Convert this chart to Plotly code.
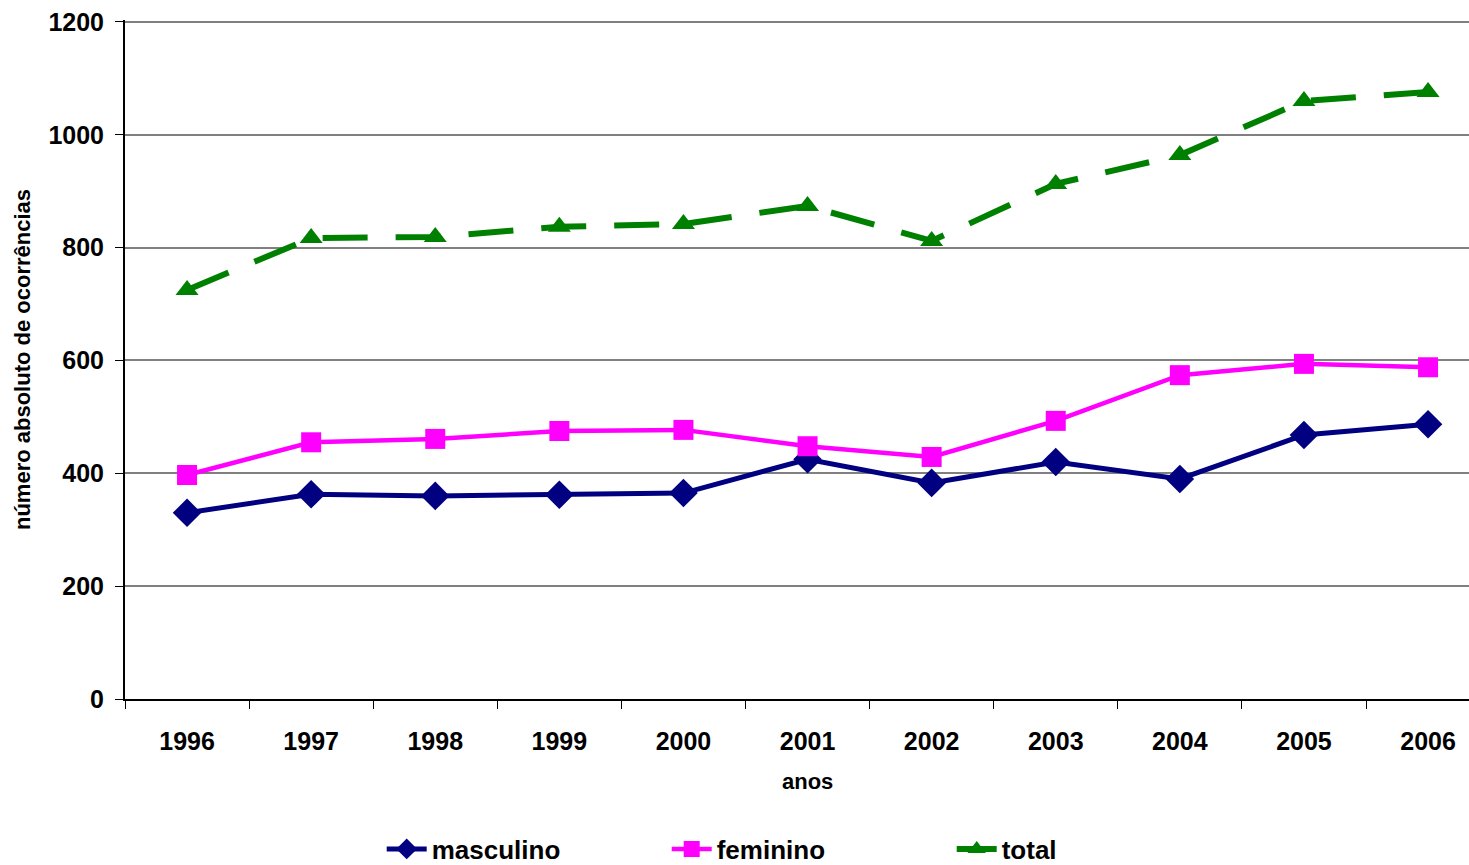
import plotly.graph_objects as go

anos = ["1996", "1997", "1998", "1999", "2000", "2001", "2002", "2003", "2004", "2005", "2006"]
masculino = [330, 363, 360, 362, 365, 425, 383, 420, 390, 468, 487]
feminino = [397, 455, 461, 475, 477, 448, 429, 493, 574, 594, 588]
total = [725, 817, 819, 837, 842, 874, 812, 913, 964, 1060, 1076]
y_ticks = [0, 200, 400, 600, 800, 1000, 1200]

FONT = "Liberation Sans, Arial, sans-serif"
xpos = list(range(len(anos)))

fig = go.Figure()
fig.add_trace(go.Scatter(
    x=xpos, y=masculino, name="<b>masculino</b>", mode="lines+markers",
    line=dict(color="#000080", width=5),
    marker=dict(symbol="diamond", size=22, color="#000080"),
))
fig.add_trace(go.Scatter(
    x=xpos, y=feminino, name="<b>feminino</b>", mode="lines+markers",
    line=dict(color="#FF00FF", width=4.5),
    marker=dict(symbol="square", size=20, color="#FF00FF"),
))
fig.add_trace(go.Scatter(
    x=xpos, y=total, name="<b>total</b>", mode="lines+markers",
    line=dict(color="#008000", width=6, dash="45px,28px"),
    marker=dict(symbol="triangle-up", size=20, color="#008000"),
))

fig.update_layout(
    width=1469, height=865,
    margin=dict(l=125, r=0, t=20, b=166, autoexpand=False),
    paper_bgcolor="white", plot_bgcolor="white",
    font=dict(family=FONT, color="black"),
    showlegend=True,
    legend=dict(
        orientation="h", x=0.191, xanchor="left", y=-0.221, yanchor="middle",
        font=dict(size=26, family=FONT, color="black"),
        entrywidth=230, entrywidthmode="pixels", traceorder="normal",
        itemwidth=40,
    ),
    xaxis=dict(
        range=[-0.5, 10.33], automargin=False,
        tickmode="array", tickvals=xpos, ticktext=["<b>%s</b>" % a for a in anos],
        ticks="", showgrid=False, zeroline=False,
        showline=True, linecolor="black", linewidth=2,
        tickfont=dict(size=25, family=FONT), ticklabelstandoff=19,
        minor=dict(tickmode="linear", tick0=-0.5, dtick=1, ticks="outside",
                   ticklen=8, tickcolor="black", tickwidth=1, showgrid=False),
    ),
    yaxis=dict(
        range=[0, 1203.5], automargin=False, tickvals=y_ticks, ticktext=["<b>%d</b>" % v for v in y_ticks],
        ticks="outside", ticklen=8, tickcolor="black", tickwidth=1,
        ticklabelstandoff=6, ticklabeloverflow="allow",
        showgrid=True, gridcolor="#808080", gridwidth=1.5,
        zeroline=False, showline=True, linecolor="black", linewidth=2,
        tickfont=dict(size=25, family=FONT),
        title=dict(text="<b>número absoluto de ocorrências</b>", font=dict(size=22, family=FONT), standoff=12),
    ),
    annotations=[dict(
        text="<b>anos</b>", xref="x", x=5, yref="paper", y=-0.121,
        xanchor="center", yanchor="middle", showarrow=False,
        font=dict(size=22, family=FONT, color="black"),
    )],
)

fig.write_html("out.html", config={"displayModeBar": False},
               post_script="document.body.style.margin='0';")
